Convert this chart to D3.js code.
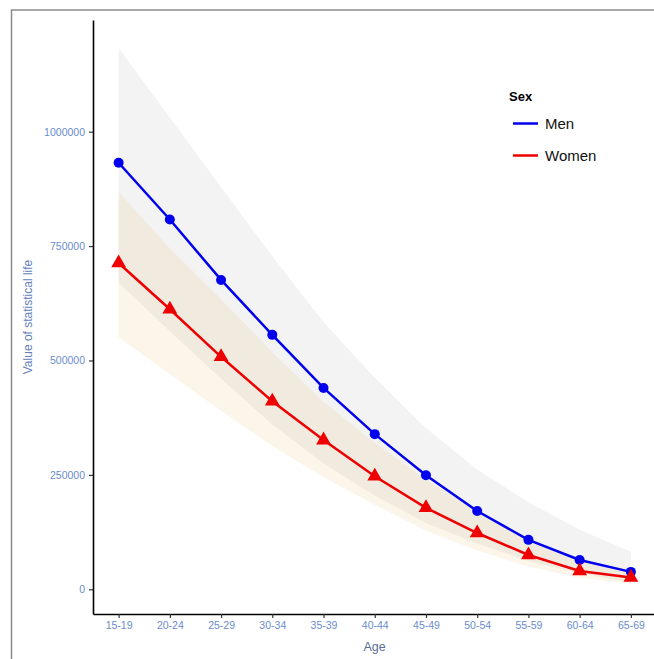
<!DOCTYPE html>
<html>
<head>
<meta charset="utf-8">
<script src="https://cdn.jsdelivr.net/npm/d3@7"></script>
<style>
  body { margin: 0; background: #fff; }
  svg { display: block; font-family: "Liberation Sans", Arial, sans-serif; }
</style>
</head>
<body>
<div id="chart"></div>
<script>
// value of statistical life by age group and sex

var ageGroups = ['15-19', '20-24', '25-29', '30-34', '35-39', '40-44', '45-49', '50-54', '55-59', '60-64', '65-69'];

var menValues = [932000, 808000, 676000, 556000, 440000, 339000, 249000, 171000, 108000, 64000, 38000];
var menLower = [670000, 564000, 460000, 360000, 275000, 205000, 145000, 100000, 62000, 35000, 15000];
var menUpper = [1183000, 1031000, 879000, 728000, 584000, 462000, 352000, 262000, 190000, 130000, 82000];

var womenValues = [713000, 612000, 508000, 411000, 326000, 247000, 178000, 123000, 75000, 40000, 26000];
var womenLower = [551000, 470000, 390000, 313000, 245000, 185000, 128000, 85000, 50000, 25000, 12000];
var womenUpper = [868000, 745000, 634000, 518000, 410000, 320000, 240000, 170000, 110000, 65000, 40000];

var yTicks = [0, 250000, 500000, 750000, 1000000];

var chart = {
    width: 654,
    height: 659,
    svg: null,
    x: null,
    y: null,
    tickColor: '#6a8ccc',

    init: function(){
        this.svg = d3.select('#chart').append('svg')
            .attr('width', this.width)
            .attr('height', this.height);

        // outer frame
        this.svg.append('rect')
            .attr('x', 11.5)
            .attr('y', 10)
            .attr('width', 700)
            .attr('height', 700)
            .attr('fill', 'none')
            .attr('stroke', '#8c8c8c')
            .attr('stroke-width', 1.5);

        this.x = d3.scaleLinear().domain([0.5, 11.5]).range([93, 656.5]);
        this.y = d3.scaleLinear().domain([-54000, 1244000]).range([614, 20]);
    },

    series: function(){
        var x = this.x, y = this.y;
        var g = this.svg.append('g');

        function ribbon(lo, hi){
            return d3.area()
                .x(function(d, i){ return x(i + 1); })
                .y0(function(d, i){ return y(lo[i]); })
                .y1(function(d, i){ return y(hi[i]); })(ageGroups);
        }

        function line(vals){
            return d3.line()
                .x(function(d, i){ return x(i + 1); })
                .y(function(d){ return y(d); })(vals);
        }

        g.append('path')
            .attr('d', ribbon(menLower, menUpper))
            .attr('fill', '#8a8a8a')
            .attr('fill-opacity', 0.1);

        g.append('path')
            .attr('d', ribbon(womenLower, womenUpper))
            .attr('fill', '#e8b25a')
            .attr('fill-opacity', 0.13);

        g.append('path')
            .attr('d', line(menValues))
            .attr('fill', 'none')
            .attr('stroke', '#0000ee')
            .attr('stroke-width', 2.5);

        g.append('path')
            .attr('d', line(womenValues))
            .attr('fill', 'none')
            .attr('stroke', '#ee0000')
            .attr('stroke-width', 2.5);

        g.selectAll('circle.men')
            .data(menValues)
            .enter()
            .append('circle')
            .attr('class', 'men')
            .attr('cx', function(d, i){ return x(i + 1); })
            .attr('cy', function(d){ return y(d); })
            .attr('r', 5)
            .attr('fill', '#0000ee');

        var tri = d3.symbol().type(d3.symbolTriangle).size(95);
        g.selectAll('path.women')
            .data(womenValues)
            .enter()
            .append('path')
            .attr('class', 'women')
            .attr('d', tri)
            .attr('transform', function(d, i){ return 'translate(' + x(i + 1) + ',' + y(d) + ')'; })
            .attr('fill', '#ee0000');
    },

    axes: function(){
        var x = this.x, y = this.y, col = this.tickColor;

        var xAxis = this.svg.append('g')
            .attr('transform', 'translate(0,614)')
            .call(d3.axisBottom(x)
                .tickValues(d3.range(1, ageGroups.length + 1))
                .tickFormat(function(d){ return ageGroups[d - 1]; })
                .tickSize(4)
                .tickSizeOuter(0)
                .tickPadding(4));

        var yAxis = this.svg.append('g')
            .attr('transform', 'translate(93,0)')
            .call(d3.axisLeft(y)
                .tickValues(yTicks)
                .tickFormat(d3.format('d'))
                .tickSize(4)
                .tickSizeOuter(0)
                .tickPadding(4));

        [xAxis, yAxis].forEach(function(a){
            a.select('.domain').attr('stroke', '#000').attr('stroke-width', 1.6);
            a.selectAll('.tick line').attr('stroke', '#333').attr('stroke-width', 1.2);
            a.selectAll('.tick text')
                .attr('fill', col)
                .style('font-size', '10.5px')
                .style('font-family', '"Liberation Sans", Arial, sans-serif');
        });

        this.svg.append('text')
            .attr('x', (93 + 656) / 2)
            .attr('y', 651)
            .attr('text-anchor', 'middle')
            .attr('fill', '#5a6f96')
            .style('font-size', '12.5px')
            .text('Age');

        this.svg.append('text')
            .attr('transform', 'translate(32,317) rotate(-90)')
            .attr('text-anchor', 'middle')
            .attr('fill', '#5f7fb8')
            .style('font-size', '12px')
            .text('Value of statistical life');
    },

    legend: function(){
        var lg = this.svg.append('g');
        var items = [
            { label: 'Men', color: '#0000ee', y: 123.5 },
            { label: 'Women', color: '#ee0000', y: 155.5 }
        ];

        lg.append('text')
            .attr('x', 509)
            .attr('y', 101)
            .attr('font-weight', 'bold')
            .style('font-size', '13px')
            .text('Sex');

        items.forEach(function(it){
            lg.append('line')
                .attr('x1', 513)
                .attr('x2', 538)
                .attr('y1', it.y)
                .attr('y2', it.y)
                .attr('stroke', it.color)
                .attr('stroke-width', 2.5);
            lg.append('text')
                .attr('x', 545)
                .attr('y', it.y + 5.5)
                .style('font-size', '15px')
                .attr('fill', '#111')
                .text(it.label);
        });
    }
};

chart.init();
chart.series();
chart.axes();
chart.legend();
</script>
</body>
</html>
